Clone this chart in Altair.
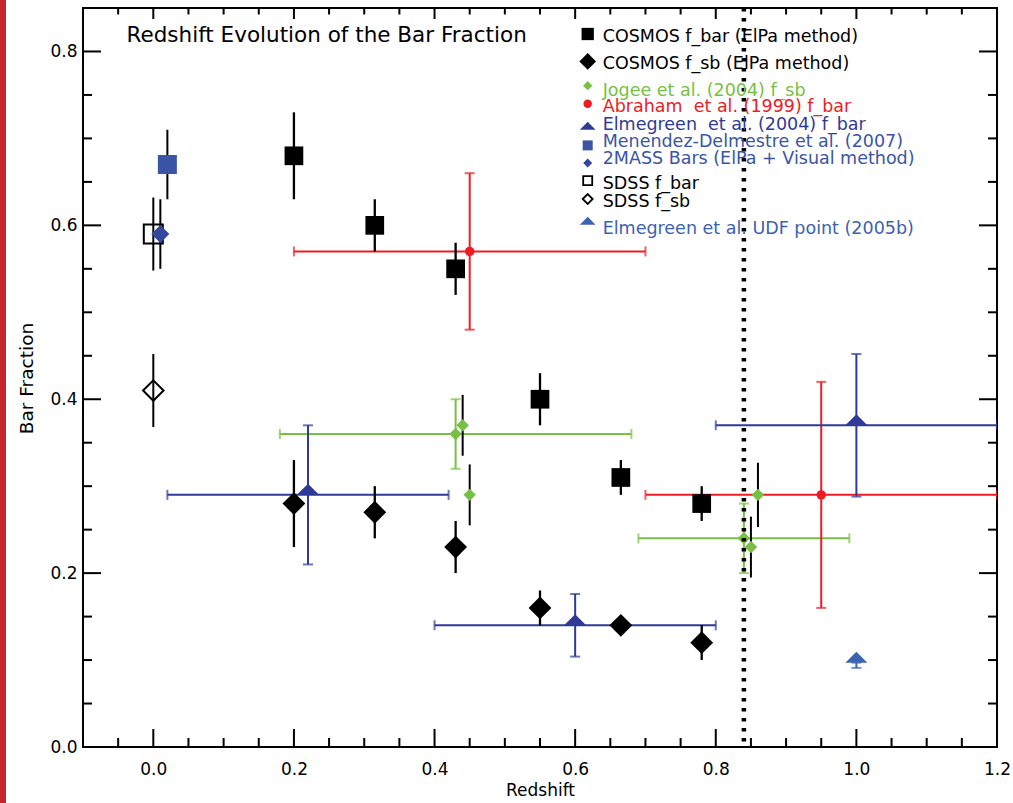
import altair as alt
import pandas as pd

# ---------------------------------------------------------------- data
# COSMOS (ElPa method): barred fraction and strong-bar fraction per redshift bin
cosmos_z = [0.2, 0.315, 0.43, 0.55, 0.665, 0.78]
cosmos_fbar = [0.68, 0.60, 0.55, 0.40, 0.31, 0.28]
cosmos_fbar_err = [0.05, 0.03, 0.03, 0.03, 0.02, 0.02]
cosmos_fsb = [0.28, 0.27, 0.23, 0.16, 0.14, 0.12]
cosmos_fsb_err = [0.05, 0.03, 0.03, 0.02, 0.01, 0.02]

# Jogee et al. (2004) f_sb, with redshift-bin widths
jogee_z = [0.43, 0.84]
jogee_zlo = [0.18, 0.69]
jogee_zhi = [0.68, 0.99]
jogee_fsb = [0.36, 0.24]
jogee_err = [0.04, 0.04]

# Jogee-style f_sb points with black error bars
jogee_b_z = [0.44, 0.45, 0.85, 0.86]
jogee_b_fsb = [0.37, 0.29, 0.23, 0.29]
jogee_b_err = [0.035, 0.035, 0.035, 0.037]

# Abraham et al. (1999) f_bar
abraham_z = [0.45, 0.95]
abraham_zlo = [0.20, 0.70]
abraham_zhi = [0.70, 1.20]
abraham_fbar = [0.57, 0.29]
abraham_err = [0.09, 0.13]

# Elmegreen et al. (2004) f_bar
elm04_z = [0.22, 0.60, 1.00]
elm04_zlo = [0.02, 0.40, 0.80]
elm04_zhi = [0.42, 0.80, 1.20]
elm04_fbar = [0.29, 0.14, 0.37]
elm04_err = [0.08, 0.036, 0.082]

# local samples
menendez_z, menendez_f, menendez_err = [0.02], [0.67], [0.04]
twomass_z, twomass_f, twomass_err = [0.01], [0.59], [0.04]
sdss_z = [0.0]
sdss_fbar, sdss_fbar_err = [0.59], [0.042]
sdss_fsb, sdss_fsb_err = [0.41], [0.042]

# Elmegreen et al. UDF point (2005b)
udf_z, udf_f, udf_err = [1.0], [0.097], [0.006]

# redshift limit marked by the dotted line
z_limit = [0.84]

# axis labels and tick marks
x_label_values = [0.0, 0.2, 0.4, 0.6, 0.8, 1.0, 1.2]
y_label_values = [0.0, 0.2, 0.4, 0.6, 0.8]
x_major_ticks = [0.0, 0.2, 0.4, 0.6, 0.8, 1.0]
x_minor_ticks = [-0.05, 0.05, 0.10, 0.15, 0.25, 0.30, 0.35, 0.45, 0.50, 0.55,
                 0.65, 0.70, 0.75, 0.85, 0.90, 0.95, 1.05, 1.10, 1.15]
y_major_ticks = [0.2, 0.4, 0.6, 0.8]
y_minor_ticks = [0.05, 0.10, 0.15, 0.25, 0.30, 0.35, 0.45, 0.50, 0.55,
                 0.65, 0.70, 0.75]

NBSP = "\u00a0"
legend_labels = [
    "COSMOS f_bar (ElPa method)",
    "COSMOS f_sb (ElPa method)",
    "Jogee et al. (2004) f_sb",
    f"Abraham{NBSP} et al. (1999) f_bar",
    f"Elmegreen{NBSP} et al. (2004) f_bar",
    "Menendez-Delmestre et al. (2007)",
    "2MASS Bars (ElPa + Visual method)",
    "SDSS f_bar",
    "SDSS f_sb",
    "Elmegreen et al. UDF point (2005b)",
]

# ---------------------------------------------------------------- styling
FONT = "DejaVu Sans"
BLACK = "#000000"
GREEN = "#78c043"
RED = "#ed1c24"
NAVY = "#2f3a97"
BLUE = "#3a55a5"
BLUE2 = "#34479e"
SKY = "#3c62b2"
TRI = "M-1,0L1,0L0,-1Z"   # triangle sitting on its data point

LEFT, TOP, W, H = 83, 8, 914, 739
PAD = {"left": LEFT, "top": TOP, "right": 1013 - LEFT - W, "bottom": 803 - TOP - H}

XS = alt.Scale(domain=[-0.1, 1.2], nice=False, zero=False)
YS = alt.Scale(domain=[0.0, 0.85], nice=False, zero=False)
XA = alt.Axis(values=x_label_values, format=".1f", ticks=False, domain=False,
              grid=False, labelFontSize=17, labelPadding=14, labelFlush=False,
              labelOverlap=False, title="Redshift", titleFontSize=17,
              titleFontWeight="normal", titleX=W / 2, titleY=43,
              titleAlign="center", titleBaseline="middle")
YA = alt.Axis(values=y_label_values, format=".1f", ticks=False, domain=False,
              grid=False, labelFontSize=17, labelPadding=6, labelFlush=False,
              labelOverlap=False, title="Bar Fraction", titleFontSize=18.5,
              titleFontWeight="normal", titleAngle=270, titleX=-57, titleY=370,
              titleAlign="center", titleBaseline="middle")


def X(field):
    return alt.X(f"{field}:Q", scale=XS, axis=XA)


def Y(field):
    return alt.Y(f"{field}:Q", scale=YS, axis=YA)


def frame(z, f, err, zlo=None, zhi=None):
    d = {"z": z, "f": f,
         "flo": [a - e for a, e in zip(f, err)],
         "fhi": [a + e for a, e in zip(f, err)]}
    if zlo is not None:
        d["zlo"] = zlo
        d["zhi"] = zhi
    return pd.DataFrame(d)


def vert_err(df, color, width=2.0, caps=False):
    out = [alt.Chart(df).mark_rule(color=color, strokeWidth=width, clip=True)
           .encode(x=X("z"), y=Y("flo"), y2="fhi")]
    if caps:
        for col in ("flo", "fhi"):
            out.append(alt.Chart(df).mark_tick(color=color, orient="horizontal",
                                               size=10, thickness=2, clip=True)
                       .encode(x=X("z"), y=Y(col)))
    return out


def horiz_err(df, color, width=2.0):
    out = [alt.Chart(df).mark_rule(color=color, strokeWidth=width, clip=True)
           .encode(x=X("zlo"), x2="zhi", y=Y("f"))]
    for col in ("zlo", "zhi"):
        out.append(alt.Chart(df).mark_tick(color=color, orient="vertical",
                                           size=10, thickness=2, clip=True)
                   .encode(x=X(col), y=Y("f")))
    return out


def marker(df, shape, size, color, filled=True):
    kw = dict(shape=shape, size=size, opacity=1)
    if filled:
        kw.update(filled=True, fill=color, strokeWidth=0)
    else:
        kw.update(filled=False, stroke=color, strokeWidth=2, fillOpacity=0)
    return alt.Chart(df).mark_point(**kw).encode(x=X("z"), y=Y("f"))


cosmos_bar = frame(cosmos_z, cosmos_fbar, cosmos_fbar_err)
cosmos_sb = frame(cosmos_z, cosmos_fsb, cosmos_fsb_err)
jogee = frame(jogee_z, jogee_fsb, jogee_err, jogee_zlo, jogee_zhi)
jogee_b = frame(jogee_b_z, jogee_b_fsb, jogee_b_err)
abraham = frame(abraham_z, abraham_fbar, abraham_err, abraham_zlo, abraham_zhi)
elm04 = frame(elm04_z, elm04_fbar, elm04_err, elm04_zlo, elm04_zhi)
menendez = frame(menendez_z, menendez_f, menendez_err)
twomass = frame(twomass_z, twomass_f, twomass_err)
sdss_bar = frame(sdss_z, sdss_fbar, sdss_fbar_err)
sdss_sb = frame(sdss_z, sdss_fsb, sdss_fsb_err)
udf = pd.DataFrame({"z": udf_z, "f": udf_f,
                    "flo": [a - e for a, e in zip(udf_f, udf_err)],
                    "fhi": udf_f})

layers = []

# page edge stripe
one = alt.Data(values=[{}])
layers.append(alt.Chart(one).mark_rect(color="#c1272d")
              .encode(x=alt.value(-LEFT), x2=alt.value(-LEFT + 6),
                      y=alt.value(-TOP), y2=alt.value(803 - TOP)))

# inward tick marks on all four sides
xmaj = pd.DataFrame({"t": x_major_ticks})
xmin = pd.DataFrame({"t": x_minor_ticks})
ymaj = pd.DataFrame({"t": y_major_ticks})
ymin = pd.DataFrame({"t": y_minor_ticks})
for df, blen, tlen in ((xmaj, 18, 11), (xmin, 9, 6.5)):
    layers.append(alt.Chart(df).mark_rule(color=BLACK, strokeWidth=2)
                  .encode(x=X("t"), y=alt.value(H), y2=alt.value(H - blen)))
    layers.append(alt.Chart(df).mark_rule(color=BLACK, strokeWidth=2)
                  .encode(x=X("t"), y=alt.value(0), y2=alt.value(tlen)))
for df, ln in ((ymaj, 18), (ymin, 9)):
    layers.append(alt.Chart(df).mark_rule(color=BLACK, strokeWidth=2)
                  .encode(y=Y("t"), x=alt.value(0), x2=alt.value(ln)))
    layers.append(alt.Chart(df).mark_rule(color=BLACK, strokeWidth=2)
                  .encode(y=Y("t"), x=alt.value(W), x2=alt.value(W - ln)))

# error bars
layers += horiz_err(jogee, GREEN)
layers += vert_err(jogee, GREEN, caps=True)
layers += horiz_err(abraham, RED)
layers += vert_err(abraham, RED, caps=True)
layers += horiz_err(elm04, NAVY)
layers += vert_err(elm04, NAVY, caps=True)
layers += vert_err(udf, SKY, caps=True)
layers += vert_err(cosmos_bar, BLACK, width=2.3)
layers += vert_err(cosmos_sb, BLACK, width=2.3)
layers += vert_err(jogee_b, BLACK, width=2)
layers += vert_err(menendez, BLACK, width=2)
layers += vert_err(twomass, BLACK, width=2)
layers += vert_err(sdss_bar, BLACK, width=2)
layers += vert_err(sdss_sb, BLACK, width=2)

# symbols
layers += [
    marker(menendez, "square", 361, BLUE),
    marker(sdss_bar, "square", 361, BLACK, filled=False),
    marker(twomass, "diamond", 324, BLUE2),
    marker(sdss_sb, "diamond", 420, BLACK, filled=False),
    marker(cosmos_bar, "square", 350, BLACK),
    marker(cosmos_sb, "diamond", 520, BLACK),
    marker(jogee, "diamond", 156, GREEN),
    marker(jogee_b, "diamond", 156, GREEN),
    marker(abraham, "circle", 90, RED),
    marker(elm04, TRI, 484, NAVY),
    marker(udf, TRI, 484, SKY),
]

# dotted redshift limit
layers.append(alt.Chart(pd.DataFrame({"z": z_limit}))
              .mark_rule(color=BLACK, strokeWidth=4.5, strokeDash=[3.5, 6.5])
              .encode(x=X("z"), y=alt.value(0), y2=alt.value(H)))

# title inside the frame
layers.append(alt.Chart(one).mark_text(
    text="Redshift Evolution of the Bar Fraction", align="left",
    baseline="middle", fontSize=21.5, font=FONT, color=BLACK)
    .encode(x=alt.value(43.5), y=alt.value(27.5)))

# legend block
legend_text_colors = [BLACK, BLACK, GREEN, RED, NAVY, BLUE, BLUE, BLACK, BLACK, SKY]
legend_symbols = [
    ("square", 151, BLACK, True),
    ("diamond", 279, BLACK, True),
    ("diamond", 86, GREEN, True),
    ("circle", 72, RED, True),
    (TRI, 246, NAVY, True),
    ("square", 100, BLUE, True),
    ("diamond", 81, BLUE2, True),
    ("square", 81, BLACK, False),
    ("diamond", 100, BLACK, False),
    (TRI, 246, SKY, True),
]
legend_text_y = [29.2, 55.7, 82.5, 99.4, 116.7, 134.2, 151.4, 175.7, 193.7, 220.7]
legend_mark_y = [26.0, 53.4, 77.7, 95.7, 121.7, 137.4, 155.0, 172.7, 191.0, 216.7]
LEG_MARK_X, LEG_TEXT_X = 504.7, 519.7

for label, tcol, (shape, size, mcol, filled), ty, my in zip(
        legend_labels, legend_text_colors, legend_symbols,
        legend_text_y, legend_mark_y):
    kw = dict(shape=shape, size=size, opacity=1)
    if filled:
        kw.update(filled=True, fill=mcol, strokeWidth=0)
    else:
        kw.update(filled=False, stroke=mcol, strokeWidth=1.8, fillOpacity=0)
    layers.append(alt.Chart(one).mark_point(**kw)
                  .encode(x=alt.value(LEG_MARK_X), y=alt.value(my)))
    layers.append(alt.Chart(one).mark_text(
        text=label, align="left", baseline="middle", fontSize=17.5,
        font=FONT, color=tcol)
        .encode(x=alt.value(LEG_TEXT_X), y=alt.value(ty)))

chart = (
    alt.layer(*layers)
    .properties(width=W, height=H, padding=PAD,
                autosize=alt.AutoSizeParams(type="none"),
                background="white")
    .configure(font=FONT)
    .configure_view(stroke=BLACK, strokeWidth=2)
    .configure_axis(labelColor=BLACK, titleColor=BLACK, labelFont=FONT,
                    titleFont=FONT)
)

chart.save("out.html", embed_options={"renderer": "svg", "actions": False})
